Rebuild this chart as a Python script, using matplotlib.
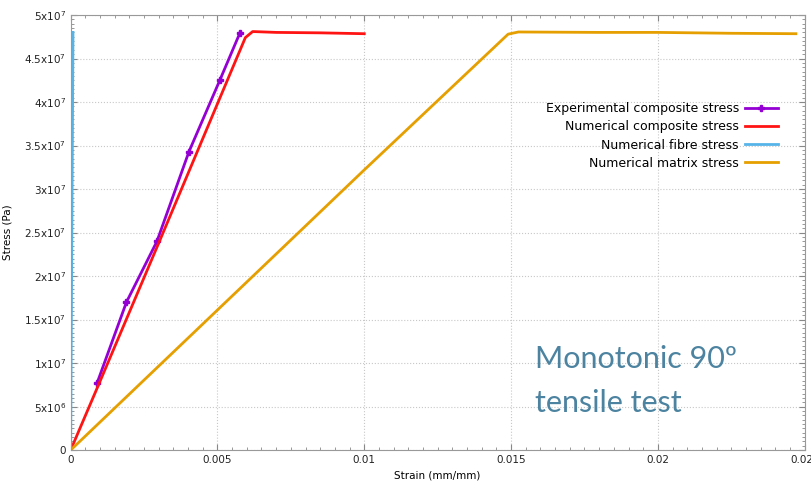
import matplotlib.pyplot as plt
from matplotlib.ticker import MultipleLocator, FuncFormatter

# strain (mm/mm) / stress (Pa) curves
exp_strain = [0.0009, 0.0019, 0.00294, 0.00403, 0.00508, 0.00576]
exp_stress = [7.7e6, 17.0e6, 24.0e6, 34.3e6, 42.5e6, 47.9e6]

num_comp_strain = [0.0, 0.001, 0.003, 0.00595, 0.0062, 0.007, 0.0085, 0.01]
num_comp_stress = [0.0, 7.9e6, 23.8e6, 47.4e6, 48.1e6, 48.0e6, 47.95e6, 47.85e6]

fibre_strain = [0.0, 0.00008]
fibre_stress = [0.0, 48.0e6]

matrix_strain = [0.0, 0.005, 0.01, 0.0149, 0.01525, 0.018, 0.02, 0.0225, 0.0247]
matrix_stress = [0.0, 16.1e6, 32.2e6, 47.8e6, 48.05e6, 48.0e6, 48.0e6, 47.9e6, 47.85e6]

c_exp = '#9400D3'
c_comp = '#ff1414'
c_fibre = '#56B4E9'
c_matrix = '#E69F00'

fig = plt.figure(figsize=(8.12, 4.84), dpi=100)
ax = fig.add_axes([0.087, 0.070, 0.904, 0.899])

ax.plot(exp_strain, exp_stress, color=c_exp, lw=2, marker='P', ms=5,
        label='Experimental composite stress')
ax.plot(num_comp_strain, num_comp_stress, color=c_comp, lw=2,
        label='Numerical composite stress')
ax.plot(fibre_strain, fibre_stress, color=c_fibre, lw=2,
        label='Numerical fibre stress')
ax.plot(matrix_strain, matrix_stress, color=c_matrix, lw=2,
        label='Numerical matrix stress')

ax.set_xlim(0, 0.025)
ax.set_ylim(0, 5e7)

ax.xaxis.set_major_locator(MultipleLocator(0.005))
ax.xaxis.set_minor_locator(MultipleLocator(0.0005))
ax.yaxis.set_major_locator(MultipleLocator(5e6))
ax.yaxis.set_minor_locator(MultipleLocator(5e5))


def xfmt(v, pos):
    if abs(v) < 1e-12:
        return '0'
    return ('%.3f' % v).rstrip('0')


def yfmt(v, pos):
    if v == 0:
        return '0'
    exp = len(str(int(round(v)))) - 1
    mant = v / 10**exp
    m = ('%.1f' % mant).rstrip('0').rstrip('.')
    return r'%sx10$^{%d}$' % (m, exp)


ax.xaxis.set_major_formatter(FuncFormatter(xfmt))
ax.yaxis.set_major_formatter(FuncFormatter(yfmt))

ax.tick_params(which='both', direction='in', top=True, right=True,
               color='#888888', labelsize=7.5, labelcolor='#222222')
ax.tick_params(which='major', length=4)
ax.tick_params(which='minor', length=2)
ax.grid(True, which='major', linestyle=':', color='#c8c8c8', lw=0.8)
for s in ax.spines.values():
    s.set_color('#999999')

ax.set_xlabel('Strain (mm/mm)', fontsize=7.5, labelpad=4)
ax.set_ylabel('Stress (Pa)', fontsize=7.5, labelpad=8)

ax.legend(loc='upper right', bbox_to_anchor=(0.975, 0.82), frameon=False,
          markerfirst=False, fontsize=9, handlelength=2.6,
          labelspacing=0.42, borderpad=0.2, handletextpad=0.5)

# title-like note, one line at a time so the baselines sit where wanted
note_kw = dict(fontsize=22, color='#4c83a0', family='Lato', va='baseline')
ax.text(0.0158, 9.4e6, 'Monotonic 90º', **note_kw)
ax.text(0.0158, 4.35e6, 'tensile test', **note_kw)

fig.savefig('out.png', dpi=100)
